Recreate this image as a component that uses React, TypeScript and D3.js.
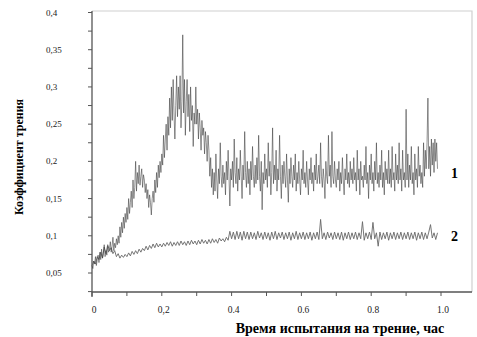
import React, { useEffect, useRef } from "react";
import * as d3 from "d3";

// friction coefficient readings, one value every 0.0025 h (curve 1) and 0.005 h (curve 2)
const step1 = 0.0025;
const step2 = 0.005;

const series1 = [
  0.06, 0.056, 0.066, 0.062, 0.072, 0.06, 0.068, 0.074, 0.064, 0.078,
  0.068, 0.082, 0.07, 0.076, 0.088, 0.072, 0.08, 0.074, 0.086, 0.078,
  0.082, 0.092, 0.078, 0.086, 0.098, 0.08, 0.09, 0.084, 0.096, 0.088,
  0.1, 0.09, 0.112, 0.098, 0.118, 0.104, 0.125, 0.11, 0.13, 0.118,
  0.138, 0.122, 0.15, 0.13, 0.145, 0.16, 0.138, 0.175, 0.15, 0.165,
  0.2, 0.16, 0.185, 0.17, 0.195, 0.168, 0.18, 0.19, 0.165, 0.182,
  0.175, 0.158, 0.17, 0.15, 0.162, 0.138, 0.155, 0.145, 0.128, 0.15,
  0.16, 0.145, 0.175, 0.158, 0.185, 0.165, 0.195, 0.178, 0.2, 0.185,
  0.21, 0.195, 0.235, 0.205, 0.23, 0.25, 0.215, 0.26, 0.235, 0.285,
  0.245, 0.3, 0.255, 0.31, 0.265, 0.23, 0.275, 0.315, 0.26, 0.3,
  0.27, 0.315, 0.245, 0.28, 0.37, 0.265, 0.31, 0.235, 0.28, 0.31,
  0.26, 0.29, 0.24, 0.3, 0.255, 0.275, 0.22, 0.265, 0.25, 0.3,
  0.25, 0.27, 0.23, 0.265, 0.245, 0.215, 0.255, 0.235, 0.245, 0.21,
  0.24, 0.225, 0.2, 0.235, 0.215, 0.18, 0.205, 0.165, 0.19, 0.155,
  0.185, 0.16, 0.21, 0.175, 0.15, 0.19, 0.17, 0.225, 0.18, 0.165,
  0.195, 0.17, 0.185, 0.155, 0.2, 0.175, 0.215, 0.18, 0.14, 0.19,
  0.175, 0.2, 0.165, 0.23, 0.185, 0.17, 0.205, 0.16, 0.19, 0.175,
  0.215, 0.18, 0.15, 0.195, 0.175, 0.24, 0.185, 0.165, 0.2, 0.17,
  0.19, 0.155, 0.2, 0.175, 0.22, 0.18, 0.165, 0.195, 0.17, 0.205,
  0.175, 0.235, 0.18, 0.16, 0.2, 0.135, 0.185, 0.17, 0.21, 0.175,
  0.19, 0.165, 0.225, 0.18, 0.2, 0.155, 0.185, 0.245, 0.17, 0.195,
  0.175, 0.215, 0.16, 0.19, 0.175, 0.235, 0.18, 0.15, 0.195, 0.17,
  0.2, 0.18, 0.165, 0.21, 0.175, 0.145, 0.19, 0.17, 0.205, 0.18,
  0.165, 0.195, 0.175, 0.21, 0.16, 0.185, 0.17, 0.2, 0.175, 0.155,
  0.19, 0.175, 0.215, 0.17, 0.185, 0.165, 0.2, 0.175, 0.155, 0.19,
  0.175, 0.205, 0.17, 0.185, 0.16, 0.195, 0.175, 0.21, 0.17, 0.18,
  0.195, 0.17, 0.225, 0.18, 0.165, 0.19, 0.175, 0.15, 0.2, 0.18,
  0.17, 0.235, 0.18, 0.195, 0.165, 0.24, 0.18, 0.17, 0.2, 0.175,
  0.165, 0.19, 0.175, 0.2, 0.16, 0.185, 0.17, 0.205, 0.175, 0.155,
  0.19, 0.175, 0.21, 0.17, 0.185, 0.165, 0.2, 0.175, 0.19, 0.17,
  0.205, 0.175, 0.185, 0.16, 0.215, 0.175, 0.19, 0.155, 0.2, 0.175,
  0.18, 0.165, 0.195, 0.175, 0.22, 0.17, 0.185, 0.15, 0.195, 0.175,
  0.21, 0.17, 0.185, 0.16, 0.2, 0.175, 0.225, 0.17, 0.185, 0.165,
  0.195, 0.175, 0.215, 0.165, 0.185, 0.155, 0.2, 0.175, 0.19, 0.17,
  0.215, 0.17, 0.19, 0.165, 0.22, 0.175, 0.185, 0.16, 0.21, 0.175,
  0.195, 0.17, 0.225, 0.175, 0.19, 0.16, 0.215, 0.175, 0.185, 0.165,
  0.27, 0.175, 0.21, 0.165, 0.195, 0.175, 0.22, 0.17, 0.185, 0.155,
  0.21, 0.175, 0.19, 0.165, 0.22, 0.18, 0.195, 0.17, 0.185, 0.165,
  0.225, 0.18, 0.215, 0.19, 0.225, 0.285, 0.19, 0.22, 0.18, 0.23,
  0.195, 0.225, 0.185, 0.23, 0.2, 0.225, 0.19,
];

const series2 = [
  0.06, 0.066, 0.062, 0.072, 0.068, 0.078, 0.07, 0.085, 0.076, 0.088,
  0.08, 0.084, 0.076, 0.08, 0.072, 0.076, 0.07, 0.074, 0.071, 0.075,
  0.072, 0.077, 0.073, 0.079, 0.075, 0.08, 0.076, 0.082, 0.078, 0.083,
  0.08, 0.086, 0.081, 0.087, 0.083, 0.089, 0.084, 0.09, 0.085, 0.089,
  0.085, 0.09, 0.086, 0.091, 0.087, 0.092, 0.086, 0.091, 0.087, 0.092,
  0.087, 0.093, 0.088, 0.092, 0.087, 0.093, 0.088, 0.094, 0.089, 0.093,
  0.088, 0.094, 0.089, 0.095, 0.09, 0.094, 0.089, 0.095, 0.09, 0.096,
  0.091, 0.095, 0.09, 0.097, 0.093, 0.096, 0.092, 0.098, 0.094, 0.106,
  0.096, 0.105, 0.095, 0.106, 0.096, 0.105, 0.094, 0.106, 0.096, 0.105,
  0.095, 0.105, 0.096, 0.104, 0.095, 0.106, 0.097, 0.104, 0.095, 0.105,
  0.096, 0.104, 0.094, 0.105, 0.096, 0.106, 0.095, 0.104, 0.097, 0.105,
  0.095, 0.104, 0.096, 0.105, 0.094, 0.104, 0.096, 0.106, 0.095, 0.104,
  0.096, 0.105, 0.095, 0.104, 0.096, 0.105, 0.094, 0.104, 0.096, 0.105,
  0.095, 0.122, 0.096, 0.104, 0.095, 0.105, 0.097, 0.104, 0.095, 0.105,
  0.096, 0.104, 0.095, 0.105, 0.094, 0.104, 0.096, 0.105, 0.095, 0.104,
  0.096, 0.105, 0.095, 0.104, 0.096, 0.119, 0.094, 0.104, 0.096, 0.105,
  0.095, 0.118, 0.096, 0.104, 0.086, 0.105, 0.095, 0.104, 0.096, 0.105,
  0.094, 0.104, 0.096, 0.105, 0.095, 0.104, 0.096, 0.105, 0.095, 0.104,
  0.096, 0.105, 0.095, 0.104, 0.096, 0.105, 0.094, 0.104, 0.096, 0.105,
  0.095, 0.104, 0.096, 0.105, 0.115, 0.097, 0.104, 0.095, 0.104,
];

const yTickValues = [0.05, 0.1, 0.15, 0.2, 0.25, 0.3, 0.35, 0.4];
const yTickLabels = ["0,05", "0,1", "0,15", "0,2", "0,25", "0,3", "0,35", "0,4"];
const xTickValues = [0, 0.2, 0.4, 0.6, 0.8, 1.0];
const xTickLabels = ["0", "0,2", "0.4", "0.6", "0.8", "1.0"];

const serif = "'Liberation Serif', 'DejaVu Serif', serif";

export default function App() {
  const ref = useRef<SVGSVGElement>(null);

  useEffect(() => {
    const width = 477,
      height = 337;
    const left = 92,
      right = 472,
      top = 11,
      bottom = 292;

    const svg = d3.select(ref.current);
    svg.selectAll("*").remove();
    svg.attr("width", width).attr("height", height);

    const x = d3.scaleLinear().domain([0, 1]).range([92, 441]);
    const y = d3.scaleLinear().domain([0.05, 0.4]).range([273, 12.5]);

    // frame
    svg
      .append("path")
      .attr("d", `M${left},${top}H${right}V${bottom}`)
      .attr("fill", "none")
      .attr("stroke", "#d0d0d0")
      .attr("stroke-width", 1.2);

    // y axis with minor ticks
    const yMinor = d3.range(0.025, 0.4001, 0.025);
    svg
      .append("line")
      .attr("x1", left)
      .attr("x2", left)
      .attr("y1", top)
      .attr("y2", bottom + 5)
      .attr("stroke", "#555")
      .attr("stroke-width", 1.3);
    svg
      .selectAll(".ytick")
      .data(yMinor)
      .enter()
      .append("line")
      .attr("x1", left - 4)
      .attr("x2", left)
      .attr("y1", (d) => y(d))
      .attr("y2", (d) => y(d))
      .attr("stroke", "#555");
    svg
      .selectAll(".ylab")
      .data(yTickValues)
      .enter()
      .append("text")
      .attr("x", 46)
      .attr("y", (d) => y(d) + 3)
      .attr("font-family", serif)
      .attr("font-size", 9)
      .attr("fill", "#222")
      .text((d, i) => yTickLabels[i]);

    // x axis
    svg
      .append("line")
      .attr("x1", left)
      .attr("x2", right)
      .attr("y1", bottom)
      .attr("y2", bottom)
      .attr("stroke", "#555")
      .attr("stroke-width", 1.3);
    svg
      .selectAll(".xtick")
      .data(d3.range(0, 1.001, 0.1))
      .enter()
      .append("line")
      .attr("x1", (d) => x(d))
      .attr("x2", (d) => x(d))
      .attr("y1", bottom)
      .attr("y2", bottom + 4)
      .attr("stroke", "#555");
    svg
      .selectAll(".xlab")
      .data(xTickValues)
      .enter()
      .append("text")
      .attr("x", (d) => x(d) + 2)
      .attr("y", 313)
      .attr("text-anchor", "middle")
      .attr("font-family", serif)
      .attr("font-size", 9.5)
      .attr("fill", "#222")
      .text((d, i) => xTickLabels[i]);

    // series
    const line1 = d3
      .line<number>()
      .x((d, i) => x(i * step1))
      .y((d) => y(d));
    const line2 = d3
      .line<number>()
      .x((d, i) => x(i * step2))
      .y((d) => y(d));

    svg
      .append("path")
      .datum(series2)
      .attr("d", line2)
      .attr("fill", "none")
      .attr("stroke", "#666")
      .attr("stroke-width", 0.9);

    svg
      .append("path")
      .datum(series1)
      .attr("d", line1)
      .attr("fill", "none")
      .attr("stroke", "#3a3a3a")
      .attr("stroke-width", 0.7)
      .attr("stroke-opacity", 0.8);

    // series labels
    svg
      .append("text")
      .attr("x", 451)
      .attr("y", y(0.185) + 5)
      .attr("font-family", serif)
      .attr("font-weight", "bold")
      .attr("font-size", 14)
      .text("1");
    svg
      .append("text")
      .attr("x", 451)
      .attr("y", y(0.1) + 5)
      .attr("font-family", serif)
      .attr("font-weight", "bold")
      .attr("font-size", 14)
      .text("2");

    // titles
    svg
      .append("text")
      .attr("x", 340)
      .attr("y", 333)
      .attr("text-anchor", "middle")
      .attr("font-family", serif)
      .attr("font-weight", "bold")
      .attr("font-size", 14)
      .text("Время испытания на трение, час");
    svg
      .append("text")
      .attr("transform", "translate(23,157) rotate(-90)")
      .attr("text-anchor", "middle")
      .attr("font-family", serif)
      .attr("font-weight", "bold")
      .attr("font-size", 12)
      .text("Коэффициент трения");
  }, []);

  return (
    <svg
      ref={ref}
      style={{ position: "absolute", left: 0, top: 0, background: "#fff" }}
    />
  );
}
